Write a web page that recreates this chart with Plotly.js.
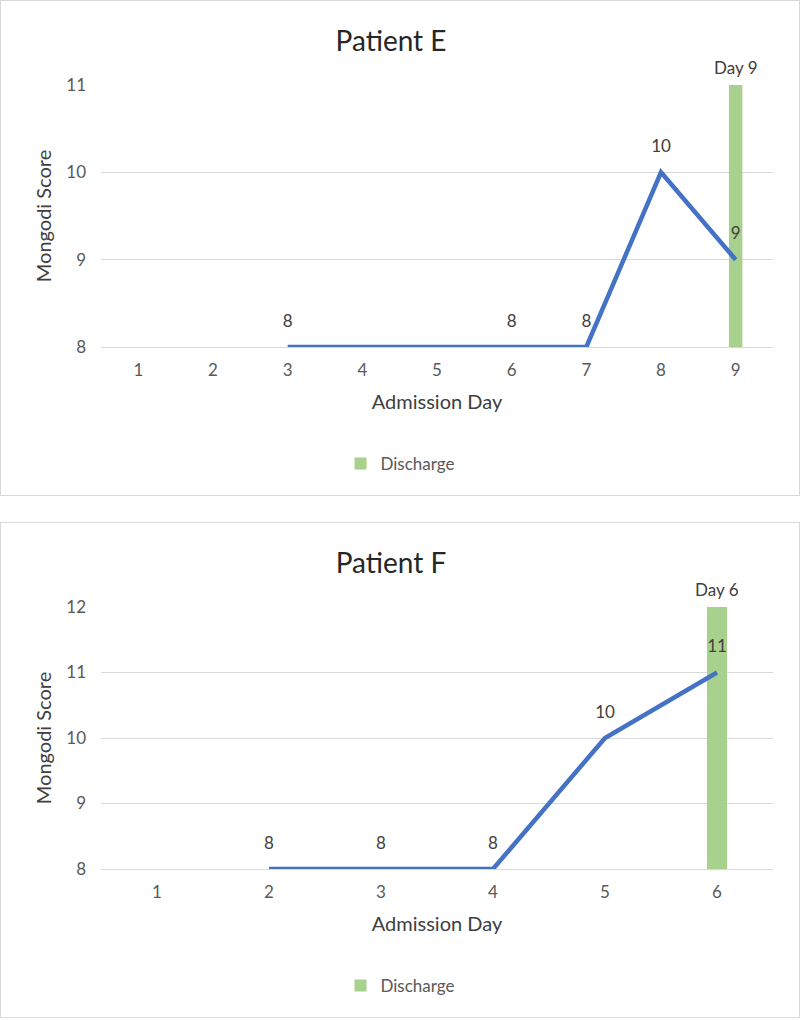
<!DOCTYPE html>
<html>
<head>
<meta charset="utf-8">
<script src="https://cdn.plot.ly/plotly-3.0.1.min.js"></script>
<style>
  html, body { margin: 0; padding: 0; background: #ffffff; }
  .panel { position: absolute; left: 0; width: 798px; height: 494px; border: 1px solid #d9d9d9; background: #fff; }
  #chartE { top: 0px; }
  #chartF { top: 522px; }
</style>
</head>
<body>
<div id="chartE" class="panel"></div>
<div id="chartF" class="panel"></div>
<script>
// ---- Patient E ----
const titleE = "Patient E";
const dayTicksE = [1, 2, 3, 4, 5, 6, 7, 8, 9];
const daysE = [3, 6, 7, 8, 9];
const scoresE = [8, 8, 8, 10, 9];
const dischargeDayE = 9;
const dischargeLabelE = "Day 9";
const yRangeE = [8, 11];

// ---- Patient F ----
const titleF = "Patient F";
const dayTicksF = [1, 2, 3, 4, 5, 6];
const daysF = [2, 3, 4, 5, 6];
const scoresF = [8, 8, 8, 10, 11];
const dischargeDayF = 6;
const dischargeLabelF = "Day 6";
const yRangeF = [8, 12];

const FONT = "Lato, 'Open Sans', 'DejaVu Sans', sans-serif";
const LINE_COLOR = "#4472C4";
const BAR_COLOR = "#a9d18e";
const GRID = "#d9d9d9";

function draw(divId, title, dayTicks, days, scores, dDay, dLabel, yRange) {
  const bar = {
    type: "bar",
    x: [dDay],
    y: [yRange[1] - yRange[0]],
    base: [yRange[0]],
    width: 0.18,
    marker: { color: BAR_COLOR },
    name: "Discharge",
    showlegend: true,
    hoverinfo: "x+name"
  };
  const line = {
    type: "scatter",
    mode: "lines+markers+text",
    x: days,
    y: scores,
    text: scores.map(String),
    textposition: "top center",
    textfont: { family: FONT, size: 17, color: "#404040" },
    line: { color: LINE_COLOR, width: 4.5 },
    marker: { size: 24, color: "rgba(0,0,0,0)" },
    cliponaxis: false,
    showlegend: false,
    name: "Mongodi Score"
  };
  const layout = {
    width: 798,
    height: 494,
    margin: { l: 100, r: 26, t: 84, b: 148 },
    paper_bgcolor: "#ffffff",
    plot_bgcolor: "#ffffff",
    font: { family: FONT, color: "#595959" },
    title: {
      text: title,
      font: { family: FONT, size: 28, color: "#262626" },
      xref: "container", x: 390 / 798, xanchor: "center",
      yref: "container", y: 1 - 40 / 494, yanchor: "middle"
    },
    xaxis: {
      range: [0.5, dayTicks.length + 0.5],
      tickvals: dayTicks,
      ticktext: dayTicks.map(String),
      showgrid: false,
      zeroline: false,
      showline: true,
      linecolor: GRID,
      linewidth: 1,
      ticks: "",
      ticklabelstandoff: 8,
      tickfont: { family: FONT, size: 17, color: "#595959" },
      title: { text: "Admission Day", font: { family: FONT, size: 20, color: "#404040" }, standoff: 15 },
      fixedrange: true
    },
    yaxis: {
      range: yRange,
      dtick: 1,
      showgrid: true,
      gridcolor: GRID,
      gridwidth: 1,
      zeroline: false,
      showline: false,
      ticks: "",
      ticklabelstandoff: 14,
      tickfont: { family: FONT, size: 17, color: "#595959" },
      title: { text: "Mongodi Score", font: { family: FONT, size: 20, color: "#404040" }, standoff: 9 },
      fixedrange: true
    },
    legend: {
      orientation: "h",
      xref: "container", x: 0.5, xanchor: "center",
      yref: "container", y: 1 - 463 / 494, yanchor: "middle",
      font: { family: FONT, size: 17, color: "#595959" }
    },
    annotations: [{
      x: dDay, y: yRange[1], xref: "x", yref: "y",
      text: dLabel, showarrow: false, yshift: 18, yanchor: "middle",
      font: { family: FONT, size: 17, color: "#404040" }
    }]
  };
  Plotly.newPlot(divId, [bar, line], layout, { displayModeBar: false, staticPlot: true });
}

draw("chartE", titleE, dayTicksE, daysE, scoresE, dischargeDayE, dischargeLabelE, yRangeE);
draw("chartF", titleF, dayTicksF, daysF, scoresF, dischargeDayF, dischargeLabelF, yRangeF);
</script>
</body>
</html>
